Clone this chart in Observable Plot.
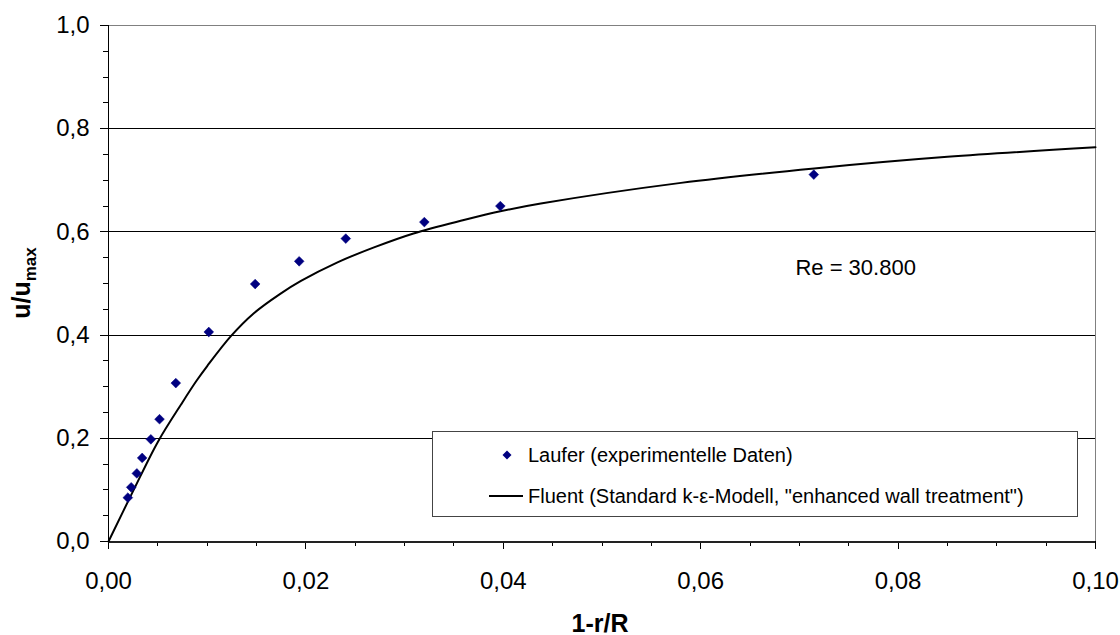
<!DOCTYPE html>
<html>
<head>
<meta charset="utf-8">
<script src="https://cdn.jsdelivr.net/npm/d3@7"></script>
<script src="https://cdn.jsdelivr.net/npm/@observablehq/plot@0.6"></script>
<style>
  html, body { margin: 0; padding: 0; background: white; }
  #wrap { position: relative; width: 1120px; height: 635px; font-family: "Liberation Sans", Arial, sans-serif; }
  #legend { position: absolute; left: 432px; top: 431px; width: 646px; height: 86px; box-sizing: border-box;
            border: 1.5px solid #444; background: white; }
  #legend .row { position: absolute; left: 0; height: 30px; display: flex; align-items: center; font-size: 20px; color: black; white-space: nowrap; }
  #legend svg { display: block; }
</style>
</head>
<body>
<div id="wrap"></div>
<script>
// ---- data ----
const lauferX = [0.00196, 0.0023, 0.00287, 0.00341, 0.00429, 0.00517, 0.00682, 0.01016, 0.01486, 0.01932, 0.02404, 0.0320, 0.0397, 0.07146];
const lauferY = [0.085, 0.105, 0.132, 0.162, 0.198, 0.237, 0.307, 0.406, 0.499, 0.543, 0.587, 0.619, 0.650, 0.711];

const fluentX = [0, 0.0025, 0.005, 0.0075, 0.0089, 0.01, 0.0124, 0.0147, 0.0174, 0.0195, 0.0232, 0.0269, 0.0309, 0.036, 0.0397, 0.0438, 0.058, 0.0715, 0.085, 0.1];
const fluentY = [0, 0.098, 0.193, 0.27, 0.311, 0.340, 0.398, 0.442, 0.480, 0.505, 0.541, 0.570, 0.597, 0.623, 0.640, 0.655, 0.695, 0.723, 0.7455, 0.764];

const yTicks = [0, 0.2, 0.4, 0.6, 0.8, 1.0];
const yMinor = [0.05, 0.1, 0.15, 0.25, 0.3, 0.35, 0.45, 0.5, 0.55, 0.65, 0.7, 0.75, 0.85, 0.9, 0.95];
const xTicks = [0, 0.02, 0.04, 0.06, 0.08, 0.10];
const xMinor = [0.005, 0.01, 0.015, 0.025, 0.03, 0.035, 0.045, 0.05, 0.055, 0.065, 0.07, 0.075, 0.085, 0.09, 0.095];
const gridY = [0.2, 0.4, 0.6, 0.8];

const legendLabels = ["Laufer (experimentelle Daten)", "Fluent (Standard k-\u03B5-Modell, \"enhanced wall treatment\")"];
const annotation = [{x: 0.0757, y: 0.531, text: "Re = 30.800"}];
const xTitle = "1-r/R";

const laufer = lauferX.map((x, i) => ({x, y: lauferY[i]}));
const fluent = fluentX.map((x, i) => ({x, y: fluentY[i]}));

const fmt1 = d => d.toFixed(1).replace(".", ",");
const fmt2 = d => d.toFixed(2).replace(".", ",");

const chart = Plot.plot({
  width: 1120,
  height: 635,
  marginLeft: 108,
  marginRight: 25,
  marginTop: 25,
  marginBottom: 94,
  x: {domain: [0, 0.1]},
  y: {domain: [0, 1]},
  style: {fontFamily: "'Liberation Sans', Arial, sans-serif", background: "white", color: "black", overflow: "visible"},
  marks: [
    Plot.ruleY(gridY, {stroke: "black", strokeWidth: 1, shapeRendering: "crispEdges"}),
    Plot.ruleY([1], {stroke: "#808080", strokeWidth: 1, shapeRendering: "crispEdges"}),
    Plot.ruleX([0.1], {stroke: "#808080", strokeWidth: 1, shapeRendering: "crispEdges"}),
    Plot.axisY(yTicks, {tickSize: 8, tickPadding: 11, tickFormat: fmt1, fontSize: 24, label: null, strokeWidth: 1, shapeRendering: "crispEdges"}),
    Plot.axisY(yMinor, {tickSize: 5, tickFormat: () => "", label: null, strokeWidth: 1, shapeRendering: "crispEdges"}),
    Plot.axisX(xTicks, {tickSize: 8, tickPadding: 22, tickFormat: fmt2, fontSize: 24, label: null, strokeWidth: 1, shapeRendering: "crispEdges"}),
    Plot.axisX(xMinor, {tickSize: 5, tickFormat: () => "", label: null, strokeWidth: 1, shapeRendering: "crispEdges"}),
    Plot.ruleX([0], {stroke: "black", strokeWidth: 1, shapeRendering: "crispEdges"}),
    Plot.ruleY([0], {stroke: "#222", strokeWidth: 2, shapeRendering: "crispEdges"}),
    Plot.line(fluent, {x: "x", y: "y", curve: "catmull-rom", stroke: "black", strokeWidth: 2}),
    Plot.dot(laufer, {x: "x", y: "y", symbol: "diamond2", r: 4.4, fill: "#000080", stroke: "#000080", strokeWidth: 0.5}),
    Plot.text(annotation, {x: "x", y: "y", text: "text", fontSize: 22, fill: "black"}),
    Plot.text([xTitle], {frameAnchor: "bottom", dx: -2, dy: 90, fontSize: 25, fontWeight: "bold", fill: "black"})
  ]
});

// y-axis title with subscript
const yt = d3.select(chart).append("text")
  .attr("transform", "translate(30,283) rotate(-90)")
  .attr("text-anchor", "middle")
  .attr("font-weight", "bold")
  .attr("font-size", 25)
  .attr("fill", "black");
yt.append("tspan").text("u/u");
yt.append("tspan").attr("font-size", 17).attr("dy", 6).text("max");

const wrap = document.getElementById("wrap");
wrap.appendChild(chart);

// legend
const legend = document.createElement("div");
legend.id = "legend";
const r1 = document.createElement("div");
r1.className = "row";
r1.style.top = "8px";
r1.innerHTML = `<svg width="95" height="30"><path d="M74,19 L78.5,23.5 L74,28 L69.5,23.5 Z" transform="translate(0,-8.5)" fill="#000080"/></svg><span>${legendLabels[0]}</span>`;
const r2 = document.createElement("div");
r2.className = "row";
r2.style.top = "49px";
r2.innerHTML = `<svg width="95" height="30"><line x1="56" x2="90" y1="15" y2="15" stroke="black" stroke-width="2"/></svg><span>${legendLabels[1]}</span>`;
legend.appendChild(r1);
legend.appendChild(r2);
wrap.appendChild(legend);
</script>
</body>
</html>
